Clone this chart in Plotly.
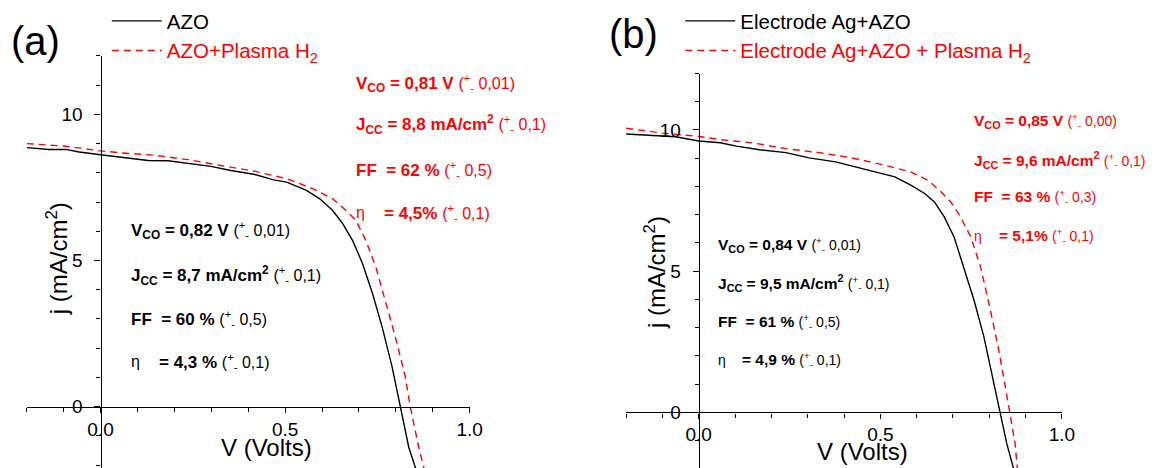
import plotly.graph_objects as go

W, H = 1158, 468
FONT = "Liberation Sans, Arial, sans-serif"
RED = "#ff0000"
BLACK = "#000000"

# ---------------- data ----------------
# panel (a)
v_a_azo = [-0.2, -0.139, -0.094, -0.058, 0.0, 0.067, 0.129, 0.183, 0.237, 0.299, 0.353,
           0.415, 0.469, 0.504, 0.558, 0.594, 0.629, 0.656, 0.683, 0.710, 0.737, 0.763,
           0.790, 0.8125, 0.835, 0.856]
j_a_azo = [8.86, 8.80, 8.80, 8.71, 8.62, 8.52, 8.42, 8.41, 8.31, 8.22, 8.08,
           7.95, 7.76, 7.68, 7.40, 7.11, 6.71, 6.26, 5.68, 4.89, 3.86, 2.72,
           1.35, 0.0, -1.39, -2.2]
v_a_plasma = [-0.2, -0.094, 0.0, 0.058, 0.147, 0.237, 0.326, 0.415, 0.504, 0.576, 0.629,
              0.665, 0.692, 0.719, 0.746, 0.772, 0.799, 0.826, 0.839, 0.862, 0.878]
j_a_plasma = [9.00, 8.91, 8.75, 8.68, 8.60, 8.45, 8.25, 8.06, 7.80, 7.45, 7.11,
              6.71, 6.37, 5.68, 4.77, 3.63, 2.37, 1.00, 0.0, -1.39, -2.2]

# panel (b)
v_b_ag = [-0.2, -0.127, -0.064, 0.0, 0.059, 0.104, 0.168, 0.240, 0.304, 0.377, 0.431,
          0.495, 0.540, 0.585, 0.622, 0.649, 0.676, 0.703, 0.730, 0.758, 0.785, 0.808,
          0.830, 0.848, 0.869]
j_b_ag = [9.86, 9.80, 9.76, 9.61, 9.55, 9.43, 9.30, 9.20, 9.01, 8.87, 8.69,
          8.49, 8.34, 8.04, 7.75, 7.45, 6.92, 6.21, 5.15, 3.97, 2.68, 1.26,
          0.0, -1.10, -2.1]
v_b_plasma = [-0.2, -0.1, 0.0, 0.059, 0.150, 0.240, 0.331, 0.422, 0.513, 0.585, 0.631,
              0.667, 0.694, 0.721, 0.749, 0.776, 0.803, 0.826, 0.844, 0.856, 0.871, 0.878]
j_b_plasma = [10.06, 9.89, 9.77, 9.66, 9.54, 9.34, 9.20, 9.01, 8.75, 8.51, 8.22,
              7.81, 7.45, 6.92, 6.21, 5.15, 3.62, 2.21, 0.91, 0.0, -1.10, -2.1]

# legend names
name_a_azo = "AZO"
name_a_plasma = "<span style='color:#ff0000'>AZO+Plasma H<sub>2</sub></span>"
name_b_ag = "Electrode Ag+AZO"
name_b_plasma = "<span style='color:#ff0000'>Electrode Ag+AZO + Plasma H<sub>2</sub></span>"

# text blocks: (label, error)
stats_a_black = [("V<sub>CO</sub> = 0,82 V", "0,01"),
                 ("J<sub>CC</sub> = 8,7 mA/cm<sup>2</sup>", "0,1"),
                 ("FF\u00a0 = 60 %", "0,5"),
                 ("= 4,3 %", "0,1")]
stats_a_red = [("V<sub>CO</sub> = 0,81 V", "0,01"),
               ("J<sub>CC</sub> = 8,8 mA/cm<sup>2</sup>", "0,1"),
               ("FF\u00a0 = 62 %", "0,5"),
               ("= 4,5%", "0,1")]
stats_b_red = [("V<sub>CO</sub> = 0,85 V", "0,00"),
               ("J<sub>CC</sub> = 9,6 mA/cm<sup>2</sup>", "0,1"),
               ("FF\u00a0 = 63 %", "0,3"),
               ("= 5,1%", "0,1")]
stats_b_black = [("V<sub>CO</sub> = 0,84 V", "0,01"),
                 ("J<sub>CC</sub> = 9,5 mA/cm<sup>2</sup>", "0,1"),
                 ("FF\u00a0 = 61 %", "0,5"),
                 ("= 4,9 %", "0,1")]

x_ticks = [0.0, 0.5, 1.0]
y_ticks = [0, 5, 10]

# ---------------- geometry (pixels in the 1158x468 picture) ----------------
def pxx(x):
    return x / W


def pxy(y):
    return 1 - y / H


panels = [
    dict(xd=(27.0, 475.0), ytop=55.9, xr=[-0.2, 1.0], yr=[-2.1, 12.0]),
    dict(xd=(633.2, 1074.0), ytop=73.5, xr=[-0.2, 1.0], yr=[-1.97, 12.0]),
]

fig = go.Figure()
fig.add_trace(go.Scatter(x=v_a_azo, y=j_a_azo, mode="lines", name=name_a_azo,
                         line=dict(color=BLACK, width=1.4), xaxis="x", yaxis="y", legend="legend"))
fig.add_trace(go.Scatter(x=v_a_plasma, y=j_a_plasma, mode="lines", name=name_a_plasma,
                         line=dict(color=RED, width=1.4, dash="7px,5px"), xaxis="x", yaxis="y",
                         legend="legend"))
fig.add_trace(go.Scatter(x=v_b_ag, y=j_b_ag, mode="lines", name=name_b_ag,
                         line=dict(color=BLACK, width=1.4), xaxis="x2", yaxis="y2", legend="legend2"))
fig.add_trace(go.Scatter(x=v_b_plasma, y=j_b_plasma, mode="lines", name=name_b_plasma,
                         line=dict(color=RED, width=1.4, dash="7px,5px"), xaxis="x2", yaxis="y2",
                         legend="legend2"))

layout = dict(
    width=W, height=H,
    margin=dict(l=0, r=0, t=0, b=0),
    paper_bgcolor="white", plot_bgcolor="rgba(0,0,0,0)",
    font=dict(family=FONT, color=BLACK),
    showlegend=True,
)

for i, p in enumerate(panels):
    xd = [pxx(p["xd"][0]), pxx(p["xd"][1])]
    yd = [0.0, pxy(p["ytop"])]
    xr, yr = p["xr"], p["yr"]
    xpos = yd[0] + (0 - yr[0]) / (yr[1] - yr[0]) * (yd[1] - yd[0])
    ypos = xd[0] + (0 - xr[0]) / (xr[1] - xr[0]) * (xd[1] - xd[0])
    suffix = "" if i == 0 else "2"
    layout["xaxis" + suffix] = dict(
        domain=xd, range=xr, anchor="free", position=xpos,
        showline=True, linecolor=BLACK, linewidth=1.3,
        ticks="outside", ticklen=5, tickwidth=1.3, tickcolor=BLACK,
        tickvals=x_ticks, ticktext=[f"{t:.1f}" for t in x_ticks],
        minor=dict(dtick=0.1, tick0=0, ticks="outside", ticklen=4, tickwidth=1.3, tickcolor=BLACK),
        showgrid=False, zeroline=False,
        tickfont=dict(size=19, color=BLACK, family=FONT),
    )
    layout["yaxis" + suffix] = dict(
        domain=yd, range=yr, anchor="free", position=ypos,
        showline=True, linecolor=BLACK, linewidth=1.3,
        ticks="outside", ticklen=6, tickwidth=1.3, tickcolor=BLACK,
        tickvals=y_ticks, ticktext=[str(t) for t in y_ticks],
        minor=dict(dtick=1, tick0=0, ticks="outside", ticklen=4, tickwidth=1.3, tickcolor=BLACK),
        showgrid=False, zeroline=False, ticklabelstandoff=8,
        tickfont=dict(size=19, color=BLACK, family=FONT),
    )

layout["legend"] = dict(x=pxx(108), y=pxy(1), xanchor="left", yanchor="top",
                        bgcolor="rgba(0,0,0,0)", borderwidth=0, tracegroupgap=0,
                        font=dict(size=20.5, color=BLACK, family=FONT), itemwidth=50)
layout["legend2"] = dict(x=pxx(688), y=pxy(1), xanchor="left", yanchor="top",
                         bgcolor="rgba(0,0,0,0)", borderwidth=0, tracegroupgap=0,
                         font=dict(size=20.5, color=BLACK, family=FONT), itemwidth=50)

ann = []


def txt(x, y, text, size, color, xanchor="left", yanchor="middle", angle=0):
    ann.append(dict(x=pxx(x), y=pxy(y), xref="paper", yref="paper", text=text, showarrow=False,
                    xanchor=xanchor, yanchor=yanchor, textangle=angle,
                    font=dict(size=size, color=color, family=FONT)))


def stat_text(label, err, nsize):
    return (f"<b>{label}</b> <span style='font-size:{nsize}px'>"
            f"(<sup>+</sup><sub>-</sub> {err})</span>")


def block(stats, x, x_eta, ys, bsize, nsize, color):
    for k, (lab, err) in enumerate(stats):
        if k < 3:
            txt(x, ys[k], stat_text(lab, err, nsize), bsize, color)
        else:
            txt(x, ys[k], "\u03b7", nsize, color)
            txt(x_eta, ys[k], stat_text(lab, err, nsize), bsize, color)


block(stats_a_black, 130.7, 159.0, [230.7, 275.0, 319.0, 361.7], 17, 16, BLACK)
block(stats_a_red, 358.5, 386.0, [83.3, 125.0, 170.0, 212.7], 17, 16, RED)
block(stats_b_red, 983.3, 1008.3, [120.7, 160.0, 197.3, 236.0], 15.5, 14, RED)
block(stats_b_black, 724.0, 748.3, [245.0, 283.3, 321.7, 360.0], 15.5, 14, BLACK)

# panel labels
txt(9, 41, "(a)", 40, BLACK)
txt(614, 34, "(b)", 40, BLACK)

# axis titles
txt(269.2, 447, "V (Volts)", 24, BLACK, xanchor="center")
txt(872, 451.7, "V (Volts)", 24, BLACK, xanchor="center")
txt(57.5, 258.3, "j (mA/cm<sup>2</sup>)", 24, BLACK, xanchor="center", angle=-90)
txt(662, 272.5, "j (mA/cm<sup>2</sup>)", 24, BLACK, xanchor="center", angle=-90)

layout["annotations"] = ann
fig.update_layout(**layout)

fig.write_html(
    "out.html",
    config={"displayModeBar": False},
    post_script="document.body.style.margin='0';document.body.style.padding='0';"
                "document.body.style.overflow='hidden';",
)
